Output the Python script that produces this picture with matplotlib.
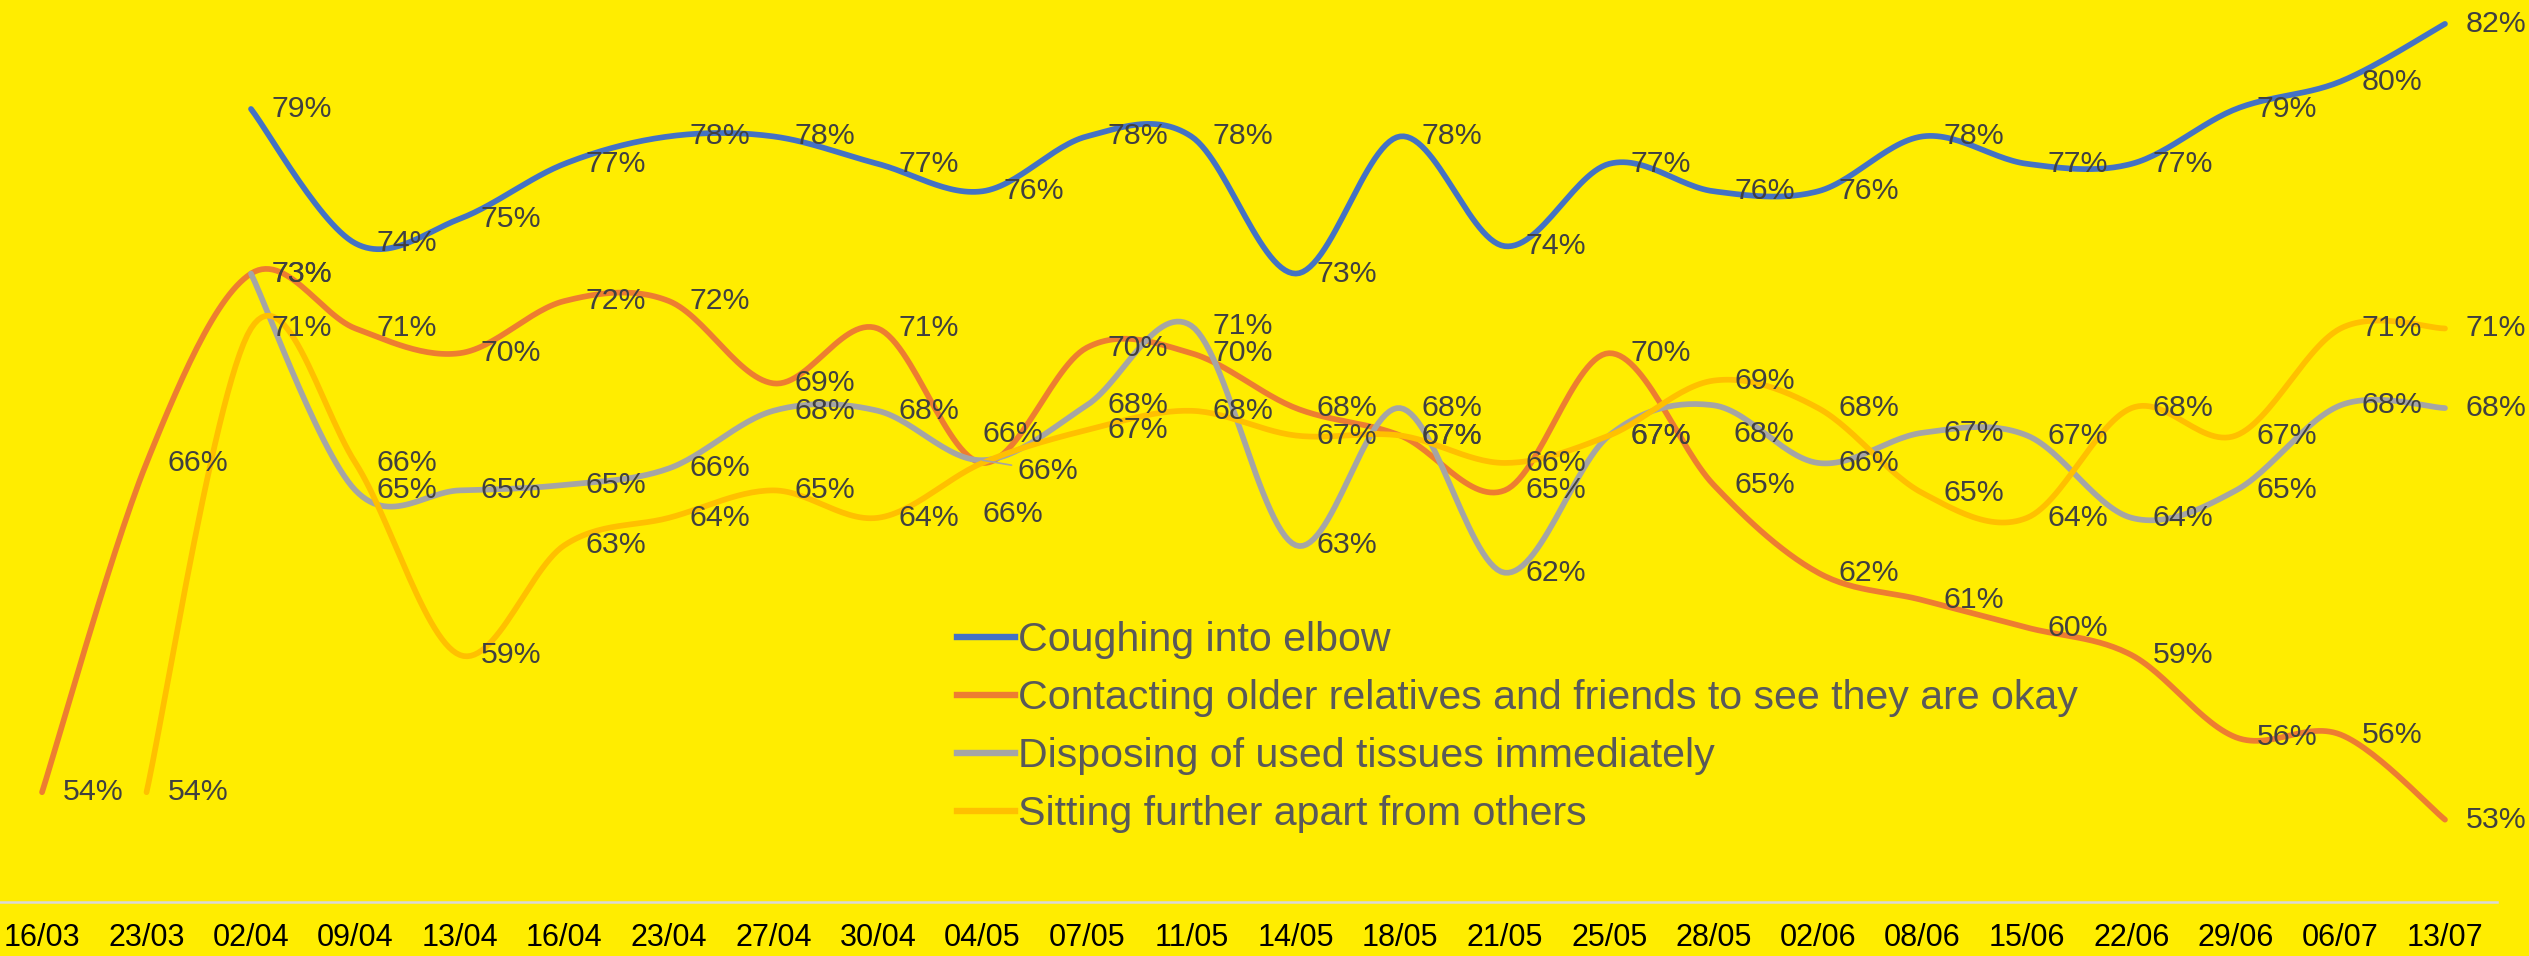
import numpy as np
import matplotlib
matplotlib.use("Agg")
import matplotlib.pyplot as plt
from matplotlib.lines import Line2D

plt.rcParams["font.family"] = ["Liberation Sans", "DejaVu Sans"]

# Données

dates = ["16/03", "23/03", "02/04", "09/04", "13/04", "16/04", "23/04", "27/04",
         "30/04", "04/05", "07/05", "11/05", "14/05", "18/05", "21/05", "25/05",
         "28/05", "02/06", "08/06", "15/06", "22/06", "29/06", "06/07", "13/07"]

coughing = [None, None, 78.9, 74.0, 74.9, 76.9, 77.9, 77.9, 76.9, 75.9, 77.9, 77.9,
            72.9, 77.9, 73.9, 76.9, 75.9, 75.9, 77.9, 76.9, 76.9, 78.9, 79.9, 82.0]
contacting = [54.0, 66.0, 72.9, 70.9, 70.0, 71.9, 71.9, 68.9, 70.9, 66.0, 70.2, 70.0,
              68.0, 67.0, 65.0, 70.0, 65.2, 62.0, 61.0, 60.0, 59.0, 56.0, 56.1, 53.0]
tissues = [None, None, 72.9, 65.0, 65.0, 65.2, 65.8, 67.9, 67.9, 66.1, 68.1, 71.0,
           63.0, 68.0, 62.0, 67.0, 68.1, 66.0, 67.1, 67.0, 64.0, 65.0, 68.1, 68.0]
sitting = [None, 54.0, 70.9, 66.0, 59.0, 63.0, 64.0, 65.0, 64.0, 66.0, 67.2, 67.9,
           67.0, 67.0, 66.0, 67.0, 69.0, 68.0, 64.9, 64.0, 68.0, 67.0, 70.9, 70.9]

series = [
    ("Coughing into elbow", coughing, "#4472C4"),
    ("Contacting older relatives and friends to see they are okay", contacting, "#ED7D31"),
    ("Disposing of used tissues immediately", tissues, "#A5A5A5"),
    ("Sitting further apart from others", sitting, "#FFC000"),
]

# décalages particuliers des étiquettes (série, index) -> (dx, dy) en points
decalages = {
    (1, 9): (0, 21),
    (2, 9): (25, -8),
    (3, 9): (0, -37),
    (2, 16): (14, -21),
}


def lisse(xs, ys, n=30):
    # courbe lissée façon Excel (Bézier / Catmull-Rom)
    px, py = [], []
    m = len(xs)
    for i in range(m - 1):
        x0, y0 = (xs[i - 1], ys[i - 1]) if i > 0 else (xs[i], ys[i])
        x1, y1 = xs[i], ys[i]
        x2, y2 = xs[i + 1], ys[i + 1]
        x3, y3 = (xs[i + 2], ys[i + 2]) if i + 2 < m else (x2, y2)
        c1x, c1y = x1 + (x2 - x0) / 6, y1 + (y2 - y0) / 6
        c2x, c2y = x2 - (x3 - x1) / 6, y2 - (y3 - y1) / 6
        t = np.linspace(0, 1, n)
        px.extend((1 - t) ** 3 * x1 + 3 * (1 - t) ** 2 * t * c1x + 3 * (1 - t) * t ** 2 * c2x + t ** 3 * x2)
        py.extend((1 - t) ** 3 * y1 + 3 * (1 - t) ** 2 * t * c1y + 3 * (1 - t) * t ** 2 * c2y + t ** 3 * y2)
    return px, py


fond = "#FFED00"
fig = plt.figure(figsize=(25.29, 9.56), dpi=100, facecolor=fond)
ax = fig.add_axes([-0.00403, 0.0565, 0.99146, 0.9472])
ax.set_facecolor(fond)

for k, (nom, vals, couleur) in enumerate(series):
    xs = [i for i, v in enumerate(vals) if v is not None]
    ys = [v for v in vals if v is not None]
    px, py = lisse(xs, ys)
    ax.plot(px, py, color=couleur, lw=4.1, solid_capstyle="round", clip_on=False, zorder=2 + k)

for k, (nom, vals, couleur) in enumerate(series):
    for i, v in enumerate(vals):
        if v is None:
            continue
        dx, dy = decalages.get((k, i), (15, 0))
        props = None
        if (k, i) == (2, 9):
            props = dict(arrowstyle="-", color="#A5A5A5", lw=1.2, shrinkA=2, shrinkB=0)
        ax.annotate(f"{v:.0f}%", (i, v), xytext=(dx, dy), textcoords="offset points",
                    ha="left", va="center", fontsize=21.8, color="#404040",
                    arrowprops=props, zorder=10)

ax.set_xlim(-0.5, 23.5)
ax.set_ylim(50, 83)
ax.set_yticks([])
ax.set_xticks(range(len(dates)))
ax.set_xticklabels(dates, fontsize=22, color="black")
ax.tick_params(axis="x", length=0, pad=15)
for s in ["top", "left", "right"]:
    ax.spines[s].set_visible(False)
ax.spines["bottom"].set_color("#D9D9D9")
ax.spines["bottom"].set_linewidth(1.8)

poignees = [Line2D([0], [0], color=c, lw=4.6) for _, _, c in series]
leg = fig.legend(poignees, [n for n, _, _ in series], loc="upper left",
                 bbox_to_anchor=(957 / 2529, 1 - 621 / 956), frameon=False,
                 fontsize=29.6, handlelength=1.4, handletextpad=0.08,
                 labelspacing=0.49, borderpad=0, borderaxespad=0)
for t in leg.get_texts():
    t.set_color("#595959")

fig.savefig("out.png", dpi=100, facecolor=fond)
